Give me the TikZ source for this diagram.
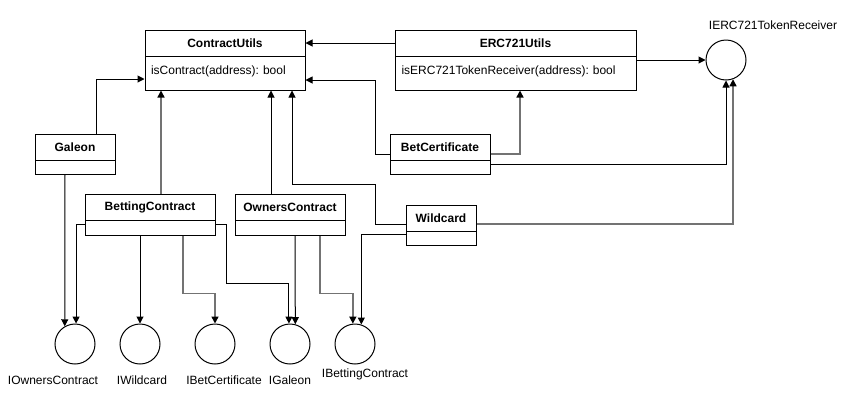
\documentclass[tikz,border=0pt]{standalone}
\usepackage{fontspec}
\setmainfont{Liberation Sans}
\usetikzlibrary{arrows.meta}
\frenchspacing

\begin{document}
\begin{tikzpicture}[x=1pt, y=-1pt, line width=1pt,
    >={Triangle[length=7pt, width=7pt, color=black]},
    font=\fontsize{12}{14}\selectfont,
    classhead/.style={draw, rectangle, minimum height=26pt, font=\fontsize{12}{14}\selectfont\bfseries},
    classbody/.style={draw, rectangle},
    iface/.style={draw, circle, minimum size=40pt, inner sep=0pt},
    greyline/.style={draw=black!55, line width=1.4pt}]

    \useasboundingbox (0,0) rectangle (853,405);

    % Define the utility classes (top)
    \node[classhead, minimum width=160pt] (cu) at (225,43) {ContractUtils};
    \node[classbody, minimum width=160pt, minimum height=34pt, text width=148pt, align=left,
          text height=9pt, text depth=7pt] (cub) at (225,73) {isContract(address): bool};
    \node[classhead, minimum width=241pt] (eu) at (515.5,43) {ERC721Utils};
    \node[classbody, minimum width=241pt, minimum height=34pt, text width=228pt, align=left,
          text height=9pt, text depth=7pt] (eub) at (515.5,73) {isERC721TokenReceiver(address): bool};

    % Define the contract classes
    \node[classhead, minimum width=80pt] (gal) at (75,147.5) {Galeon};
    \node[classbody, minimum width=80pt, minimum height=14pt] (galb) at (75,167) {};
    \node[classhead, minimum width=100pt] (cert) at (440,147.5) {BetCertificate};
    \node[classbody, minimum width=100pt, minimum height=14pt] (certb) at (440,167) {};
    \node[classhead, minimum width=130pt] (bc) at (150,207) {BettingContract};
    \node[classbody, minimum width=130pt, minimum height=15pt] (bcb) at (150,227.5) {};
    \node[classhead, minimum width=110pt] (oc) at (290,207) {OwnersContract};
    \node[classbody, minimum width=110pt, minimum height=15pt] (ocb) at (290,227.5) {};
    \node[classhead, minimum width=70pt] (wc) at (441,218) {Wildcard};
    \node[classbody, minimum width=70pt, minimum height=14pt] (wcb) at (441,238) {};

    % Define the interfaces (circles)
    \node[iface] (ierc) at (726,60) {};
    \node (iercl) at (773,25) {IERC721TokenReceiver};
    \node[iface] (iown) at (75,344) {};
    \node (iownl) at (53,380) {IOwnersContract};
    \node[iface] (iwild) at (140,344) {};
    \node (iwildl) at (142,380) {IWildcard};
    \node[iface] (icert) at (215,344) {};
    \node (icertl) at (224,380) {IBetCertificate};
    \node[iface] (igal) at (290,344) {};
    \node (igall) at (290,380) {IGaleon};
    \node[iface] (ibet) at (355,344) {};
    \node (ibetl) at (365,374) {IBettingContract};

    % Draw arrows up to the utility classes
    \draw[->] (eu.west) -- (cu.east);
    \draw[->] ([xshift=21pt]gal.north) |- ([yshift=-6pt]cub.west);
    \draw[->, greyline] ([xshift=11pt]bc.north) -- ([xshift=-64pt]cub.south);
    \draw[->] ([xshift=-19pt]oc.north) -- ([xshift=46pt]cub.south);
    \draw[->] ([yshift=-6pt]wc.west) -- ++(-30,0) -- ++(0,-40) -| ([xshift=67pt]cub.south);
    \draw[->] ([yshift=-6.5pt]cert.west) -- ++(-14,0) |- ([yshift=-7pt]cub.east);
    \draw[->, greyline] ([yshift=-6.5pt]cert.east) -| ([xshift=4.5pt]eub.south);

    % Draw arrows to IERC721TokenReceiver
    \draw[->] ([yshift=13pt]eub.east) -- (ierc.west);
    \draw[->] ([yshift=3pt]certb.east) -| (ierc.south);
    \draw[->, greyline] ([yshift=-6pt]wc.east) -| (ierc.-70);

    % Draw arrows down to the interfaces
    \draw[->] ([xshift=-10pt]galb.south) -- (iown.120);
    \draw[->] ([yshift=3.5pt]bcb.west) -| (iown.87);
    \draw[->] ([xshift=-10pt]bcb.south) -- (iwild.north);
    \draw[->, greyline] ([xshift=33pt]bcb.south) |- ([yshift=30pt]icert.north) -- (icert.north);
    \draw[->] ([yshift=3.5pt]bcb.east) -- ++(11,0) |- ([yshift=40pt]igal.93) -- (igal.93);
    \draw[->] ([xshift=5pt]ocb.south) -- (igal.75);
    \draw[->, greyline] ([xshift=30pt]ocb.south) |- ([yshift=30pt]ibet.96) -- (ibet.96);
    \draw[->] ([yshift=4pt]wcb.west) -| (ibet.72);

\end{tikzpicture}
\end{document}
